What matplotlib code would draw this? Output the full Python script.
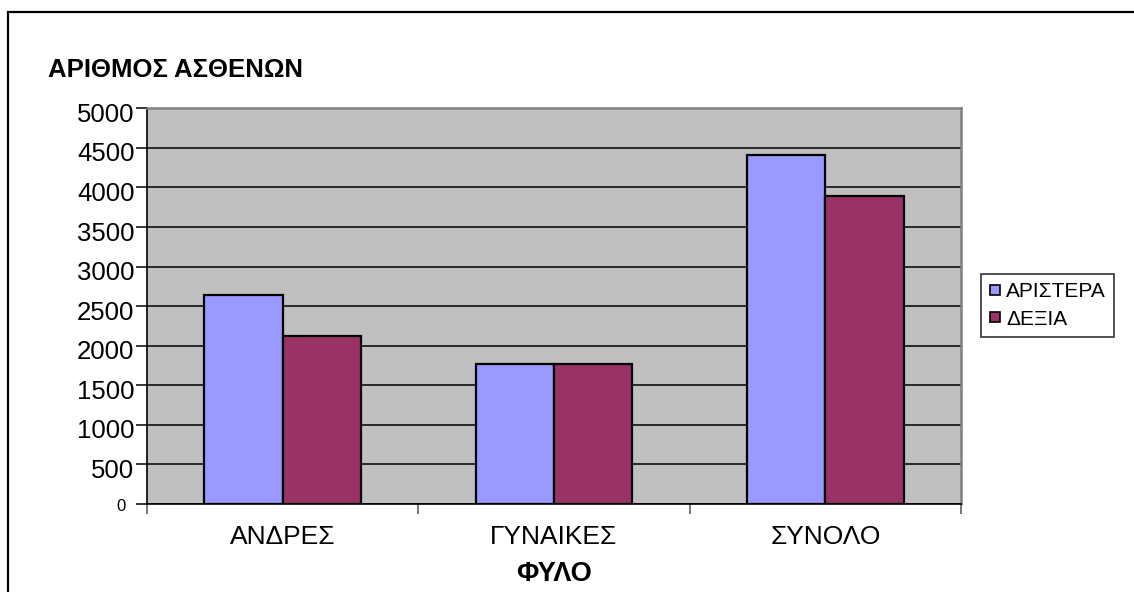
import matplotlib
matplotlib.use("Agg")
import matplotlib.pyplot as plt
import matplotlib.transforms as mtransforms
import numpy as np
from matplotlib.patches import Rectangle
from matplotlib.lines import Line2D

plt.rcParams['font.family'] = ['Liberation Sans', 'DejaVu Sans']

categories = ["ΑΝΔΡΕΣ", "ΓΥΝΑΙΚΕΣ", "ΣΥΝΟΛΟ"]
series_names = ["ΑΡΙΣΤΕΡΑ", "ΔΕΞΙΑ"]
aristera = [2640, 1775, 4410]
dexia = [2125, 1775, 3890]
y_ticks = [0, 500, 1000, 1500, 2000, 2500, 3000, 3500, 4000, 4500, 5000]
colors = ["#9999FF", "#993366"]

W, H = 1134, 592
fig = plt.figure(figsize=(W / 100, H / 100), dpi=100)
fig.patch.set_facecolor("white")

# outer chart border (top and left edges inside the frame)
fig.add_artist(Rectangle((8 / W, -0.1), 1.2, 0.1 + 1 - 12 / H,
                         transform=fig.transFigure, fill=False,
                         edgecolor="black", linewidth=1.6))

ax = fig.add_axes([147 / W, 1 - 504 / H, (961 - 147) / W, (504 - 108.3) / H])
ax.set_facecolor("#C0C0C0")

x = np.arange(len(categories))
w = 0.289
ax.bar(x - w / 2, aristera, w, color=colors[0], edgecolor="black", linewidth=1.6, zorder=3)
ax.bar(x + w / 2, dexia, w, color=colors[1], edgecolor="black", linewidth=1.6, zorder=3)

ax.set_xlim(-0.5, 2.5)
ax.set_ylim(0, 5000)

ax.set_yticks(y_ticks)
ax.set_yticklabels([str(v) for v in y_ticks], fontsize=18.5)
ax.yaxis.grid(True, color="black", linewidth=1.1, zorder=1)
ax.set_axisbelow(True)

ax.set_xticks(x)
ax.set_xticklabels(categories, fontsize=19)
ax.tick_params(axis="x", length=0, pad=15)
ax.set_xticks([-0.5, 0.5, 1.5, 2.5], minor=True)
ax.tick_params(axis="x", which="minor", length=7, width=1.2, color="#606060", direction="out")
ax.tick_params(axis="y", length=8, width=1.1, color="black", direction="out", pad=1)

for s in ["left", "bottom"]:
    ax.spines[s].set_color("black")
    ax.spines[s].set_linewidth(1.2)
for s in ["top", "right"]:
    ax.spines[s].set_color("#808080")
    ax.spines[s].set_linewidth(1.8)

ax.set_xlabel("ΦΥΛΟ", fontsize=19.5, fontweight="bold", labelpad=9)

fig.canvas.draw()
# value labels sit slightly below their gridlines; the zero label is smaller
for i, lab in enumerate(ax.get_yticklabels()):
    if i == 0:
        lab.set_fontsize(12)
        off = mtransforms.ScaledTranslation(-9 / 100, -1 / 100, fig.dpi_scale_trans)
    else:
        off = mtransforms.ScaledTranslation(0, -4 / 100, fig.dpi_scale_trans)
    lab.set_transform(lab.get_transform() + off)

fig.text(48 / W, 1 - 77 / H, "ΑΡΙΘΜΟΣ ΑΣΘΕΝΩΝ", fontsize=18.5, fontweight="bold",
         ha="left", va="baseline")

handles = [Line2D([0], [0], marker="s", linestyle="none", markersize=6.5,
                  markerfacecolor=c, markeredgecolor="black", markeredgewidth=1.2)
           for c in colors]
leg = fig.legend(handles, series_names, loc="upper left",
                 bbox_to_anchor=(981 / W, 1 - 274 / H), fontsize=15,
                 frameon=True, fancybox=False, handlelength=0.5, handletextpad=0.3,
                 borderpad=0.4, labelspacing=0.4, borderaxespad=0)
leg.get_frame().set_edgecolor("black")
leg.get_frame().set_linewidth(1.2)

fig.savefig("out.png", dpi=100, facecolor="white")
